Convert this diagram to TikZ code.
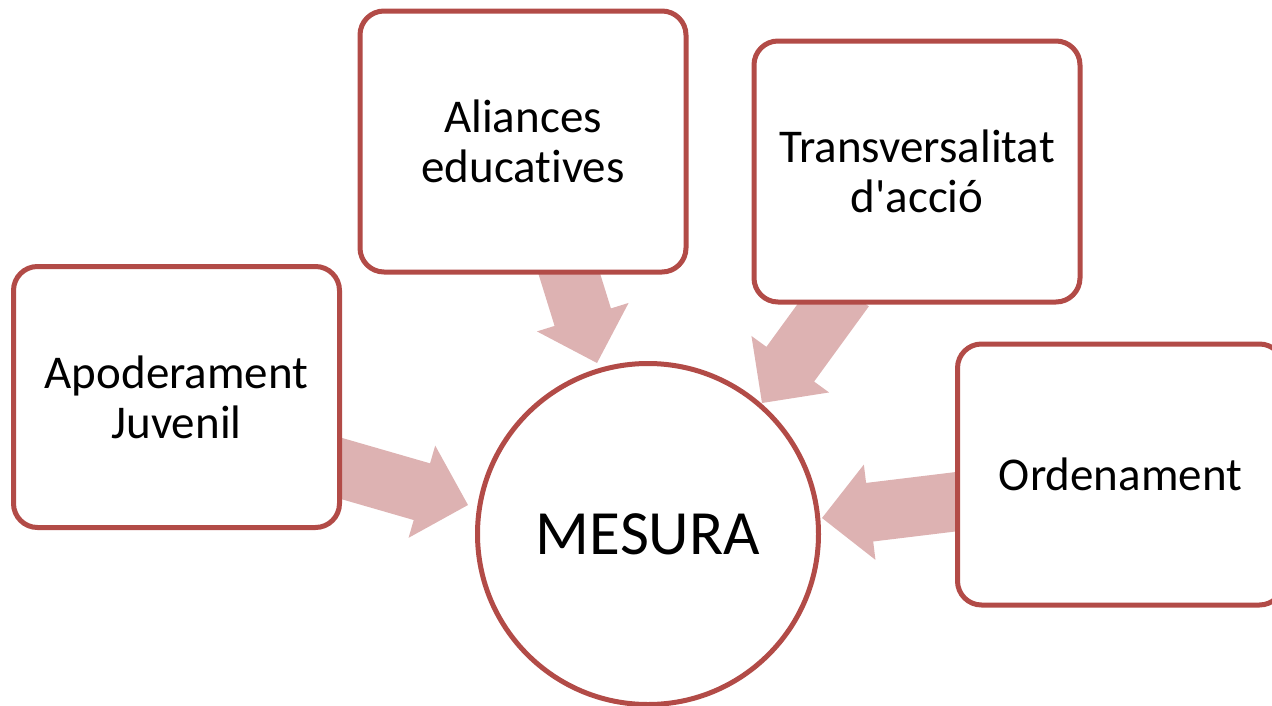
\documentclass[tikz,border=0pt]{standalone}
\usepackage{fontspec}
\setmainfont{Carlito}[Ligatures={NoCommon,NoDiscretionary,NoContextual}]
\usetikzlibrary{calc}
\definecolor{boxred}{RGB}{178,75,71}
\definecolor{arrowfill}{RGB}{221,178,178}
\pgfdeclarelayer{background}
\pgfsetlayers{background,main}
\newcommand\myblockarrow[2]{%
  \coordinate (tmpB) at ($(#2)!48pt!(#1)$);
  \fill[arrowfill] ($(#1)!29.5pt!90:(#2)$) -- ($(tmpB)!29.5pt!90:(#2)$) -- ($(tmpB)!48pt!90:(#2)$) -- (#2) -- ($(tmpB)!48pt!-90:(#2)$) -- ($(tmpB)!29.5pt!-90:(#2)$) -- ($(#1)!29.5pt!-90:(#2)$) -- cycle;}
\tikzset{
  boxnode/.style={draw=boxred, line width=5pt, fill=white, rectangle, rounded corners=24pt,
    minimum width=326pt, minimum height=261pt, align=center, inner sep=0pt,
    font=\fontsize{47}{50}\selectfont},
  centrenode/.style={draw=boxred, line width=5pt, fill=white, circle, minimum size=341pt,
    inner sep=0pt, font=\fontsize{63}{70}\selectfont}
}
\begin{document}
\begin{tikzpicture}[x=1pt,y=-1pt]
\useasboundingbox (0,0) rectangle (1272,705);
\node[boxnode] (apo) at (176.5,397) {Apoderament\\Juvenil};
\node[boxnode] (ali) at (523,141.5) {Aliances\\educatives};
\node[boxnode] (tra) at (917,171.5) {Transversalitat\\d\textquotesingle acció};
\node[boxnode] (ord) at (1120.5,474.5) {Ordenament};
\node[centrenode] (mes) at (648,534) {MESURA};
% arrow end points
\coordinate (a1s) at (326,464);
\coordinate (a1t) at (468,505);
\coordinate (a2s) at (565,260);
\coordinate (a2t) at (597,363);
\coordinate (a3s) at (845,289);
\coordinate (a3t) at (762,403);
\coordinate (a4s) at (970,500);
\coordinate (a4t) at (822,518);
\begin{pgfonlayer}{background}
\myblockarrow{a1s}{a1t}
\myblockarrow{a2s}{a2t}
\myblockarrow{a3s}{a3t}
\myblockarrow{a4s}{a4t}
\end{pgfonlayer}
\end{tikzpicture}
\end{document}
